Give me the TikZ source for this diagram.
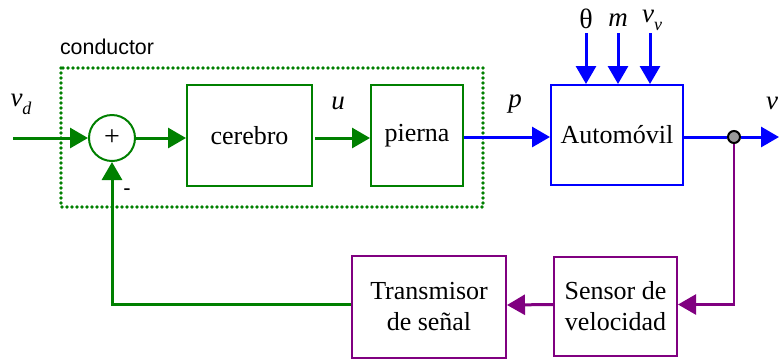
\documentclass[tikz,border=0pt]{standalone}
\usepackage{fontspec}
\setmainfont{Liberation Serif}
\setsansfont{Liberation Sans}
\usetikzlibrary{arrows.meta}
\definecolor{ctrlgreen}{RGB}{0,128,0}
\definecolor{carblue}{RGB}{0,0,255}
\definecolor{fbpurple}{RGB}{128,0,128}
% lowered italic subscript for variable names
\newcommand{\lowsub}[1]{\raisebox{-0.3em}{\fontsize{9}{9}\selectfont\itshape #1}}

\begin{document}
\begin{tikzpicture}[x=0.5pt,y=-0.5pt,
  txt/.style={font=\fontsize{13}{15.5}\selectfont},
  lbl/.style={font=\fontsize{13.5}{15.5}\selectfont\itshape,inner sep=0pt},
  blockbox/.style={draw,line width=1pt,inner sep=0pt,align=center,txt},
  tip/.style={-{Triangle[length=9pt,width=10pt]}},
  flow/.style={line width=1.5pt,tip},
]
\useasboundingbox (0,0) rectangle (780,361);
\clip (0,0) rectangle (780,361);

% driver: dotted frame
\draw[ctrlgreen,line width=1.8pt,line cap=round,dash pattern=on 0pt off 2.5pt]
  (61,68) rectangle (483,207);
\node[font=\sffamily\fontsize{10.7}{12}\selectfont] (drv) at (107,47) {conductor};

% blocks
\node[blockbox,ctrlgreen,circle,minimum size=23pt] (sum) at (112,138) {};
\node[txt,font=\fontsize{14}{15.5}\selectfont] (plus) at (112,138) {+};
\node[blockbox,ctrlgreen,minimum width=62.5pt,minimum height=50.5pt,text=black] (cer) at (249.5,135.5) {cerebro};
\node[blockbox,ctrlgreen,minimum width=46pt,minimum height=50.5pt,text=black] (pie) at (417,135.5) {pierna};
\node[blockbox,carblue,minimum width=66pt,minimum height=50pt,text=black] (aut) at (617,135) {Automóvil};
\node[blockbox,fbpurple,minimum width=61.5pt,minimum height=49.5pt,text=black] (sen) at (615.5,306.5) {Sensor de\\velocidad};
\node[blockbox,fbpurple,minimum width=77pt,minimum height=51pt,text=black] (tra) at (429,307) {Transmisor\\de señal};

% output pick-off point
\node[circle,draw=black,fill=gray!80,line width=1pt,inner sep=0pt,minimum size=6pt] (pick) at (734,137) {};

% free ends
\coordinate (in) at (13,138);
\coordinate (out) at (779,137);
\coordinate (dth) at (586,33);
\coordinate (dm) at (618,33);
\coordinate (dv) at (650,33);

% labels
\node[lbl] (lvd) at (21,104) {v\lowsub{d}};
\node[lbl] (lu) at (338,103) {u};
\node[lbl] (lp) at (515,104) {p};
\node[lbl] (lv) at (772,103) {v};
\node[txt,inner sep=0pt,font=\fontsize{14}{15.5}\selectfont] (lth) at (586,19) {θ};
\node[lbl] (lm) at (618,20) {m};
\node[lbl] (lvv) at (652,20) {v\lowsub{v}};
\node[font=\sffamily\fontsize{11}{12}\selectfont,inner sep=0pt] (lmin) at (127,192) {-};

% forward path
\draw[flow,ctrlgreen] (in) -- (sum.west);
\draw[flow,ctrlgreen] (sum.east) -- (sum.east -| cer.west);
\draw[flow,ctrlgreen] ([xshift=1pt]cer.east |- sum.east) -- (sum.east -| pie.west);
\draw[flow,carblue] (pie.east |- pick) -- (pick -| aut.west);
\draw[line width=1.5pt,carblue] (aut.east |- pick) -- (pick.west);
\draw[flow,carblue] (pick.east) -- (out);

% disturbances
\draw[flow,carblue] (dth) -- (dth |- aut.north);
\draw[flow,carblue] (dm) -- (dm |- aut.north);
\draw[flow,carblue] (dv) -- (dv |- aut.north);

% feedback path
\draw[line width=1.3pt,fbpurple,tip] (pick.south) |- ([yshift=1pt]sen.east);
\draw[flow,fbpurple] ([yshift=1pt]sen.west) -- ([yshift=1pt]tra.east);
\draw[flow,ctrlgreen] ([yshift=1.5pt]tra.west) -| (sum.south);
\end{tikzpicture}
\end{document}
